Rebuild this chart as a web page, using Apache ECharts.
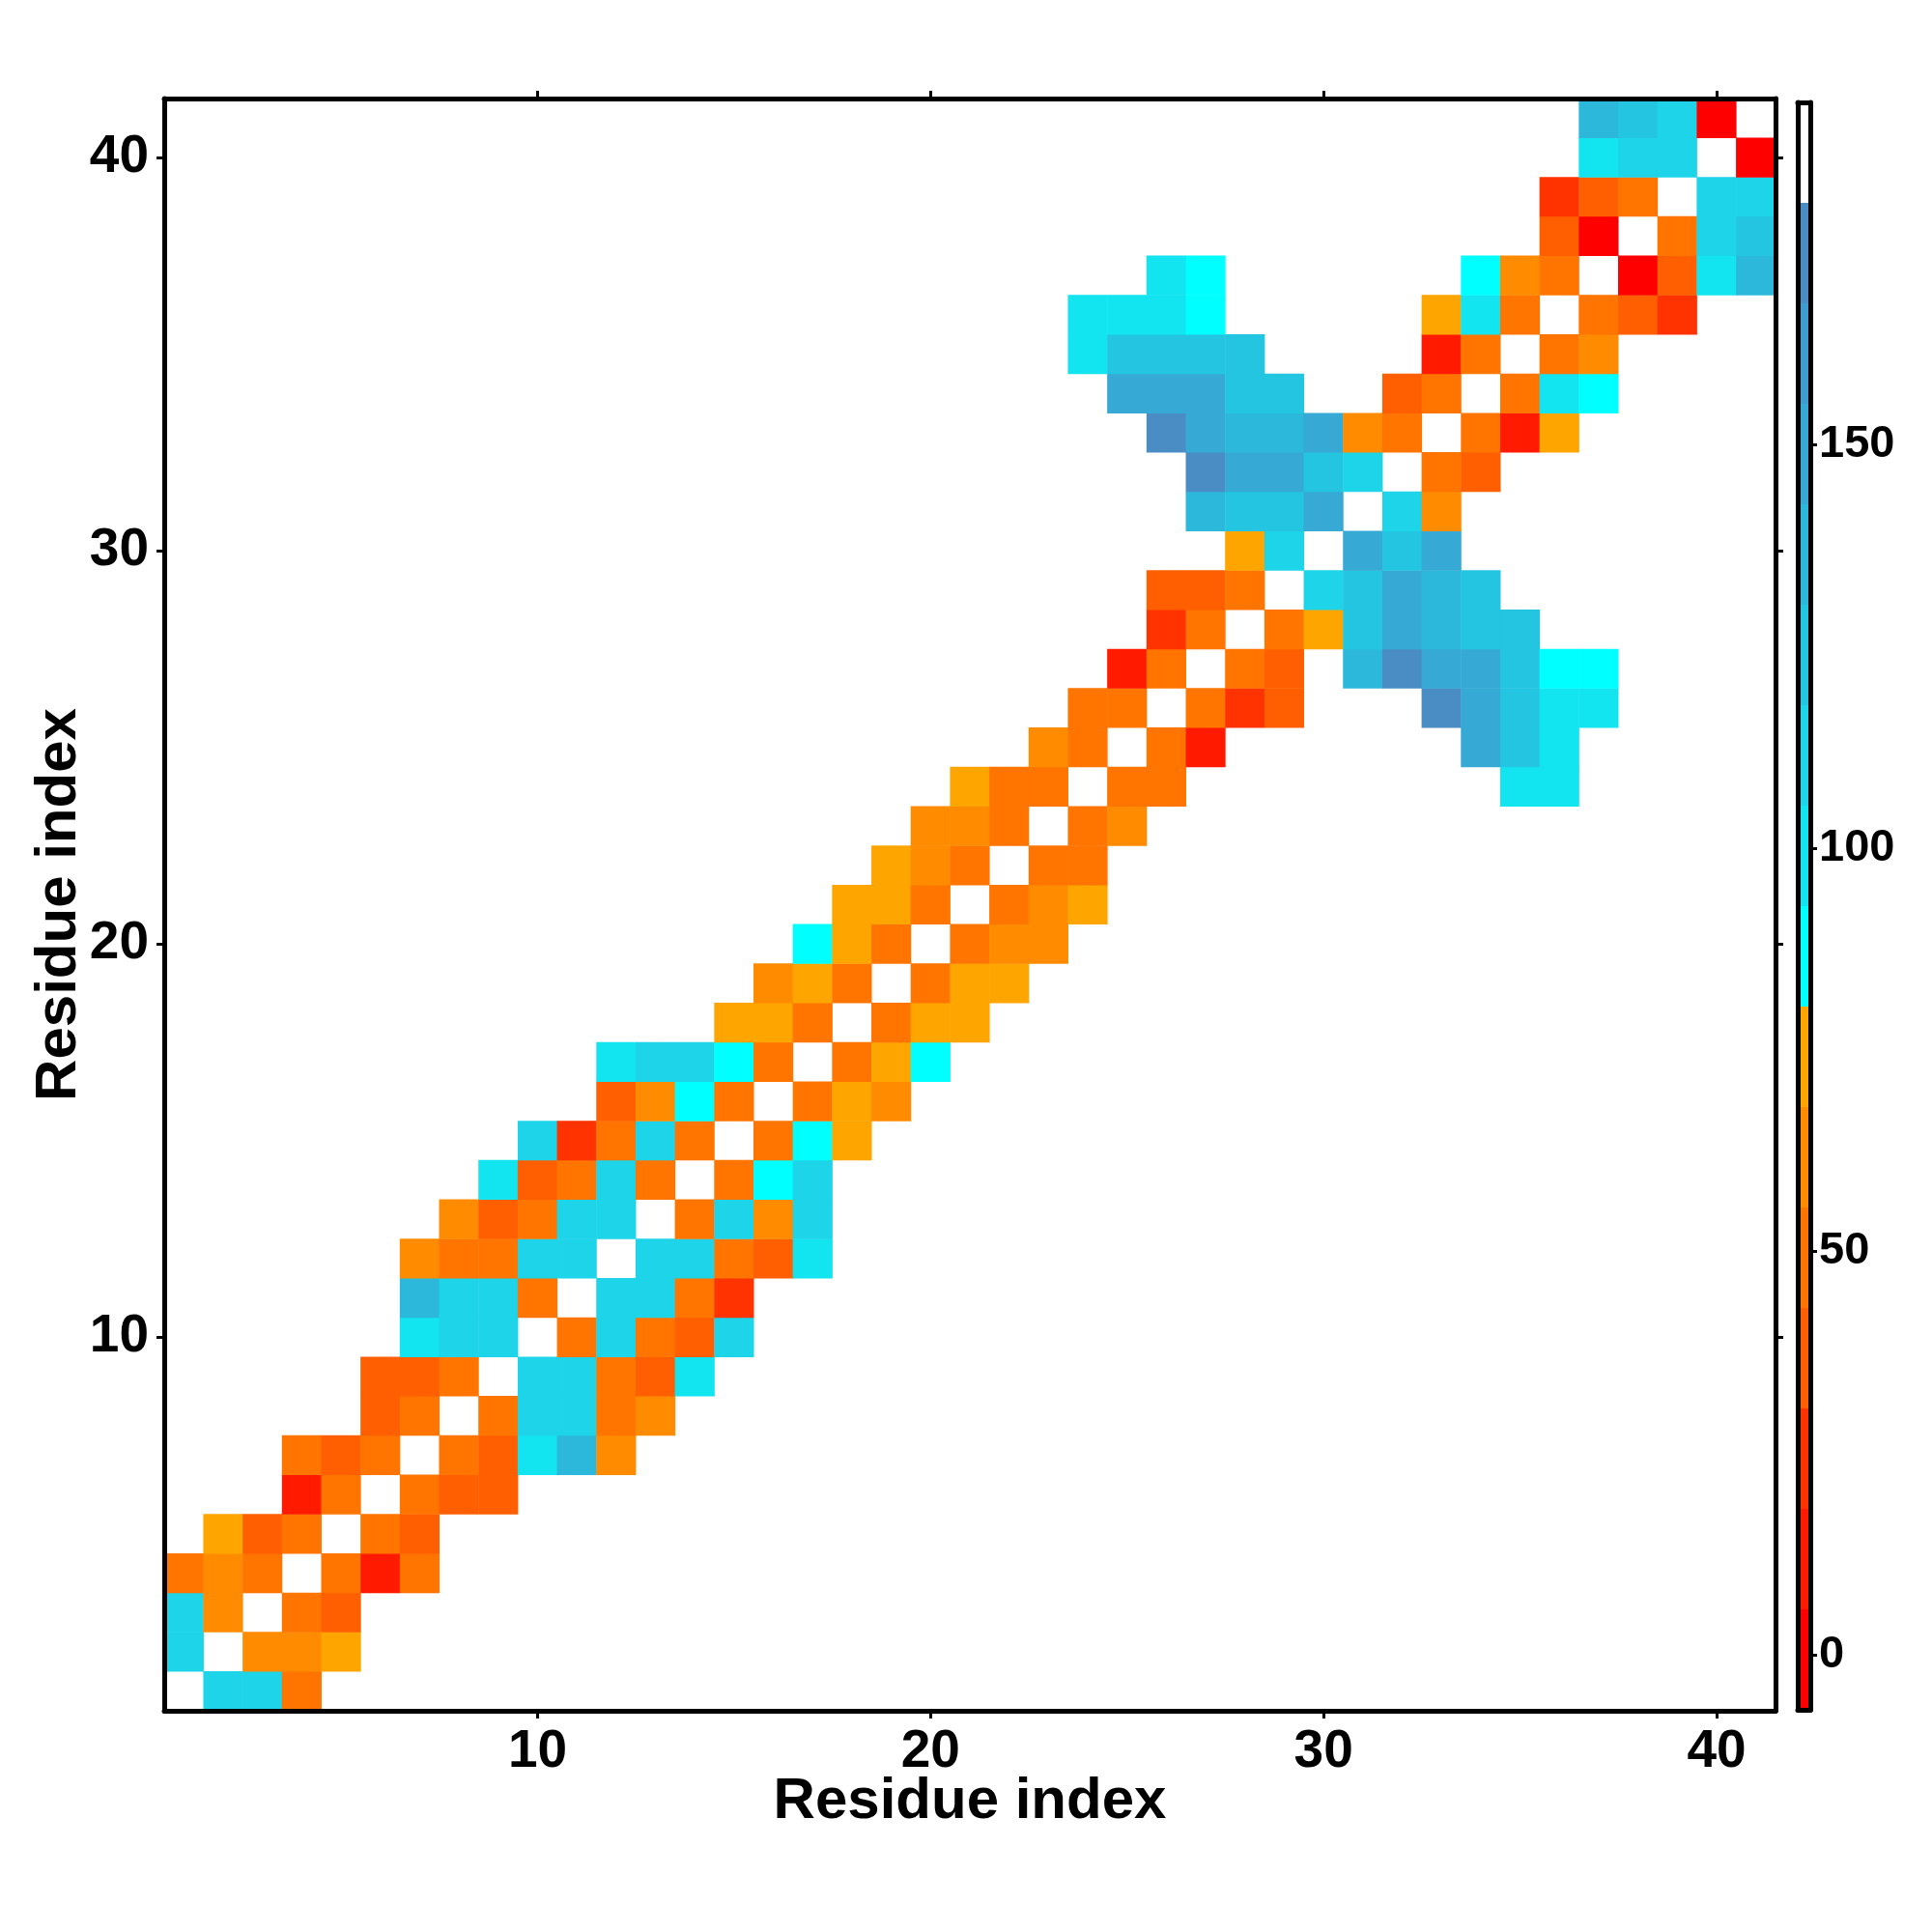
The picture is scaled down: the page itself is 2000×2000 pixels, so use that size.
<!DOCTYPE html>
<html><head><meta charset="utf-8">
<script src="https://cdn.jsdelivr.net/npm/echarts@6/dist/echarts.min.js"></script>
<style>html,body{margin:0;padding:0;background:#fff}#c{width:2000px;height:2000px}</style>
</head><body><div id="c"></div>
<script>
// ---- data ----
const residues = Array.from({length: 41}, (_, i) => String(i + 1));
const tickResidues = [10, 20, 30, 40];
// Lower triangle (symmetric matrix): [residue i, first residue j, values for j, j+1, ...]
const lowerRows = [
  [2, 1, [111]],
  [3, 1, [111, 61]],
  [4, 1, [49, 61, 49]],
  [5, 2, [74, 37, 49]],
  [6, 4, [12, 49]],
  [7, 4, [49, 37, 49]],
  [8, 6, [37, 49]],
  [9, 6, [37, 37, 49]],
  [10, 7, [99, 111, 111]],
  [11, 7, [137, 111, 111, 49]],
  [12, 7, [61, 49, 49, 111, 111]],
  [13, 8, [61, 37, 49, 111, 111]],
  [14, 9, [99, 37, 49, 111, 49]],
  [15, 10, [111, 24, 49, 111, 49]],
  [16, 12, [37, 61, 87, 49]],
  [17, 12, [99, 111, 111, 87, 49]],
  [18, 15, [74, 74, 49]],
  [19, 16, [61, 74, 49]],
  [20, 17, [87, 74, 49]],
  [21, 18, [74, 74, 49]],
  [22, 19, [74, 61, 49]],
  [23, 20, [61, 61, 49]],
  [24, 21, [74, 49, 49]],
  [25, 23, [61, 49]],
  [26, 24, [49, 49]],
  [27, 25, [12, 49]],
  [28, 26, [24, 49]],
  [29, 26, [37, 37, 49]],
  [30, 28, [74, 111]],
  [31, 27, [137, 124, 124, 149]],
  [32, 27, [174, 149, 149, 124, 111]],
  [33, 26, [174, 149, 137, 137, 149, 61, 49]],
  [34, 25, [149, 149, 149, 124, 124, null, null, 37, 49]],
  [35, 24, [99, 124, 124, 124, 124, null, null, null, null, 12, 49]],
  [36, 24, [99, 99, 99, 87, null, null, null, null, null, 74, 99, 49]],
  [37, 26, [99, 87, null, null, null, null, null, null, 87, 61, 49]],
  [38, 36, [37, 0]],
  [39, 36, [24, 37, 49]],
  [40, 37, [99, 111, 111]],
  [41, 37, [137, 124, 111, 0]]
];
// colour scale (stepped)
const bandEdges = [-6.8, 5.65, 18.1, 30.55, 43.0, 55.45, 67.9, 80.35, 92.8, 105.25, 117.7, 130.15, 142.6, 155.05, 167.5, 179.95, 192.4];
const bandColors = ['#ff0000', '#ff1a00', '#ff3300', '#ff5f00', '#ff7500', '#ff8c00', '#ffa500',
  '#00ffff', '#12e4f0', '#1dd4e8', '#24c5e0', '#2cb8db', '#37a9d5', '#3f9ccf', '#4a8dc4', '#ffffff'];
const colorbarTicks = [0, 50, 100, 150];

// ---- build ----
const cells = [];
lowerRows.forEach(([i, j0, vals]) => {
  vals.forEach((v, k) => {
    if (v == null) return;
    const j = j0 + k;
    cells.push([j - 1, i - 1, v]);
    cells.push([i - 1, j - 1, v]);
  });
});
const pieces = bandColors.map((c, k) => ({gte: bandEdges[k], lt: bandEdges[k + 1], color: c}));
const bands = bandColors.map((c, k) => [bandEdges[k], bandEdges[k + 1], k]);

const FONT = 'Liberation Sans, Arial, Helvetica, sans-serif';
const showTick = (idx, val) => tickResidues.includes(+val);
const lineStyle = {color: '#000', width: 5};
const frameLine = {show: true, onZero: false, lineStyle: lineStyle};

const chart = echarts.init(document.getElementById('c'), null, {renderer: 'canvas'});
chart.setOption({
  animation: false,
  backgroundColor: '#fff',
  grid: [
    {left: 170, top: 102, width: 1668, height: 1669},
    {left: 1861, top: 106, width: 13, height: 1664}
  ],
  visualMap: {type: 'piecewise', show: false, seriesIndex: 0, pieces: pieces},
  xAxis: [
    {type: 'category', gridIndex: 0, data: residues, position: 'bottom', z: 10,
      name: 'Residue index', nameLocation: 'middle', nameGap: 64, nameMoveOverlap: false,
      nameTextStyle: {fontFamily: FONT, fontWeight: 'bold', fontSize: 60, color: '#000'},
      axisLine: frameLine,
      axisTick: {show: true, alignWithLabel: true, interval: showTick, length: 8, lineStyle: {color: '#000', width: 3}},
      axisLabel: {interval: showTick, fontFamily: FONT, fontWeight: 'bold', fontSize: 55, color: '#000', margin: 15},
      splitLine: {show: false}},
    {type: 'category', gridIndex: 0, data: residues, position: 'top', z: 10,
      axisLine: frameLine,
      axisTick: {show: true, alignWithLabel: true, interval: showTick, length: 8, lineStyle: {color: '#000', width: 3}},
      axisLabel: {show: false}, splitLine: {show: false}},
    {type: 'value', gridIndex: 1, min: 0, max: 1, position: 'bottom', z: 10,
      axisLine: frameLine, axisTick: {show: false}, axisLabel: {show: false}, splitLine: {show: false}},
    {type: 'value', gridIndex: 1, min: 0, max: 1, position: 'top', z: 10,
      axisLine: frameLine, axisTick: {show: false}, axisLabel: {show: false}, splitLine: {show: false}}
  ],
  yAxis: [
    {type: 'category', gridIndex: 0, data: residues, position: 'left', z: 10,
      name: 'Residue index', nameLocation: 'middle', nameGap: 79, nameMoveOverlap: false,
      nameTextStyle: {fontFamily: FONT, fontWeight: 'bold', fontSize: 60, color: '#000'},
      axisLine: frameLine,
      axisTick: {show: true, alignWithLabel: true, interval: showTick, length: 8, lineStyle: {color: '#000', width: 3}},
      axisLabel: {interval: showTick, fontFamily: FONT, fontWeight: 'bold', fontSize: 55, color: '#000', margin: 16},
      splitLine: {show: false}},
    {type: 'category', gridIndex: 0, data: residues, position: 'right', z: 10,
      axisLine: frameLine,
      axisTick: {show: true, alignWithLabel: true, interval: showTick, length: 8, lineStyle: {color: '#000', width: 3}},
      axisLabel: {show: false}, splitLine: {show: false}},
    {type: 'value', gridIndex: 1, min: bandEdges[0], max: bandEdges[bandEdges.length - 1], position: 'right', z: 10,
      axisLine: frameLine,
      axisTick: {show: true, customValues: colorbarTicks, length: 7, lineStyle: {color: '#000', width: 3}},
      axisLabel: {show: true, customValues: colorbarTicks, fontFamily: FONT, fontWeight: 'bold', fontSize: 47, color: '#000', margin: 9},
      splitLine: {show: false}},
    {type: 'value', gridIndex: 1, min: bandEdges[0], max: bandEdges[bandEdges.length - 1], position: 'left', z: 10,
      axisLine: frameLine, axisTick: {show: false}, axisLabel: {show: false}, splitLine: {show: false}}
  ],
  series: [
    {type: 'heatmap', xAxisIndex: 0, yAxisIndex: 0, data: cells,
      itemStyle: {borderWidth: 0}, emphasis: {disabled: true}, progressive: 0},
    {type: 'custom', xAxisIndex: 2, yAxisIndex: 2, data: bands, silent: true,
      renderItem: function (params, api) {
        const lo = api.value(0), hi = api.value(1), k = api.value(2);
        const p0 = api.coord([0, lo]);
        const p1 = api.coord([1, hi]);
        return {type: 'rect',
          shape: {x: p0[0], y: p1[1], width: p1[0] - p0[0], height: p0[1] - p1[1]},
          style: {fill: bandColors[k]}};
      }}
  ]
});
</script>
</body></html>
